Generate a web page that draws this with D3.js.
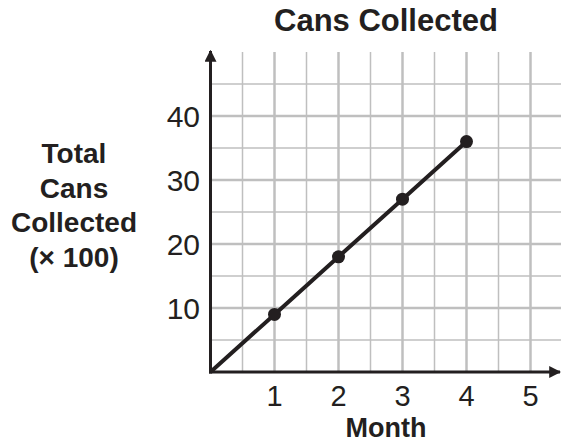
<!DOCTYPE html>
<html>
<head>
<meta charset="utf-8">
<script src="https://cdn.jsdelivr.net/npm/d3@7"></script>
<style>
  body { margin: 0; background: #fff; }
  text { font-family: "Liberation Sans", Arial, sans-serif; fill: #231f20; }
</style>
</head>
<body>
<div id="chart"></div>
<script>
var months = [0, 1, 2, 3, 4]
var cans = [0, 9, 18, 27, 36]   // hundreds
var xTicks = [1, 2, 3, 4, 5]
var yTicks = [10, 20, 30, 40]
var yLabelLines = ['Total', 'Cans', 'Collected', '(\u00d7 100)']

var W = 561, H = 444
var svg = d3.select('#chart').append('svg').attr('width', W).attr('height', H)

var x = d3.scaleLinear().domain([0, 5.5]).range([210.5, 562.5])
var y = d3.scaleLinear().domain([0, 50]).range([372, 52])

// grid: half months, 5s on y
var g = svg.append('g')
var vx = d3.range(0.5, 5.01, 0.5)
g.selectAll('line.v').data(vx).join('line')
  .attr('x1', d => x(d)).attr('x2', d => x(d))
  .attr('y1', y(0)).attr('y2', y(50))
  .attr('stroke', '#bfbfbf')
  .attr('stroke-width', d => d % 1 == 0 ? 2.5 : 1.5)
var hy = d3.range(5, 46, 5)
g.selectAll('line.h').data(hy).join('line')
  .attr('x1', x(0)).attr('x2', x(5.5))
  .attr('y1', d => y(d)).attr('y2', d => y(d))
  .attr('stroke', '#bfbfbf')
  .attr('stroke-width', d => d % 10 == 0 ? 2.5 : 1.5)

// axes with arrows
svg.append('defs').append('marker')
  .attr('id', 'arrow').attr('viewBox', '0 0 10 10')
  .attr('refX', 9).attr('refY', 5)
  .attr('markerWidth', 4).attr('markerHeight', 4)
  .attr('markerUnits', 'strokeWidth')
  .attr('orient', 'auto')
  .append('path').attr('d', 'M0,0L10,5L0,10z').attr('fill', '#231f20')

svg.append('line')
  .attr('x1', x(0)).attr('x2', x(0)).attr('y1', y(0) + 1.5).attr('y2', y(50) - 1)
  .attr('stroke', '#231f20').attr('stroke-width', 3).attr('marker-end', 'url(#arrow)')
svg.append('line')
  .attr('x1', x(0) - 1.5).attr('x2', 560).attr('y1', y(0)).attr('y2', y(0))
  .attr('stroke', '#231f20').attr('stroke-width', 3).attr('marker-end', 'url(#arrow)')

// tick labels
svg.selectAll('text.xt').data(xTicks).join('text')
  .attr('x', d => x(d)).attr('y', 406)
  .attr('text-anchor', 'middle').attr('font-size', 29)
  .text(d => d)
svg.selectAll('text.yt').data(yTicks).join('text')
  .attr('x', 200).attr('y', d => y(d) + 11)
  .attr('text-anchor', 'end').attr('font-size', 30)
  .text(d => d)

// data line + points
var pts = months.map((m, i) => ({month: m, cans: cans[i]}))
var line = d3.line().x(d => x(d.month)).y(d => y(d.cans))
svg.append('path').attr('d', line(pts))
  .attr('fill', 'none').attr('stroke', '#231f20').attr('stroke-width', 4)
svg.selectAll('circle').data(pts.slice(1)).join('circle')
  .attr('cx', d => x(d.month)).attr('cy', d => y(d.cans)).attr('r', 6.5)
  .attr('fill', '#231f20')

// titles
svg.append('text').attr('x', 386).attr('y', 31)
  .attr('text-anchor', 'middle').attr('font-size', 31).attr('font-weight', 'bold')
  .text('Cans Collected')
svg.append('text').attr('x', 386).attr('y', 437)
  .attr('text-anchor', 'middle').attr('font-size', 27).attr('font-weight', 'bold')
  .text('Month')
svg.selectAll('text.yl').data(yLabelLines).join('text')
  .attr('x', 74).attr('y', (d, i) => 163 + i * 34.5)
  .attr('text-anchor', 'middle').attr('font-size', 28).attr('font-weight', 'bold')
  .text(d => d)
</script>
</body>
</html>
